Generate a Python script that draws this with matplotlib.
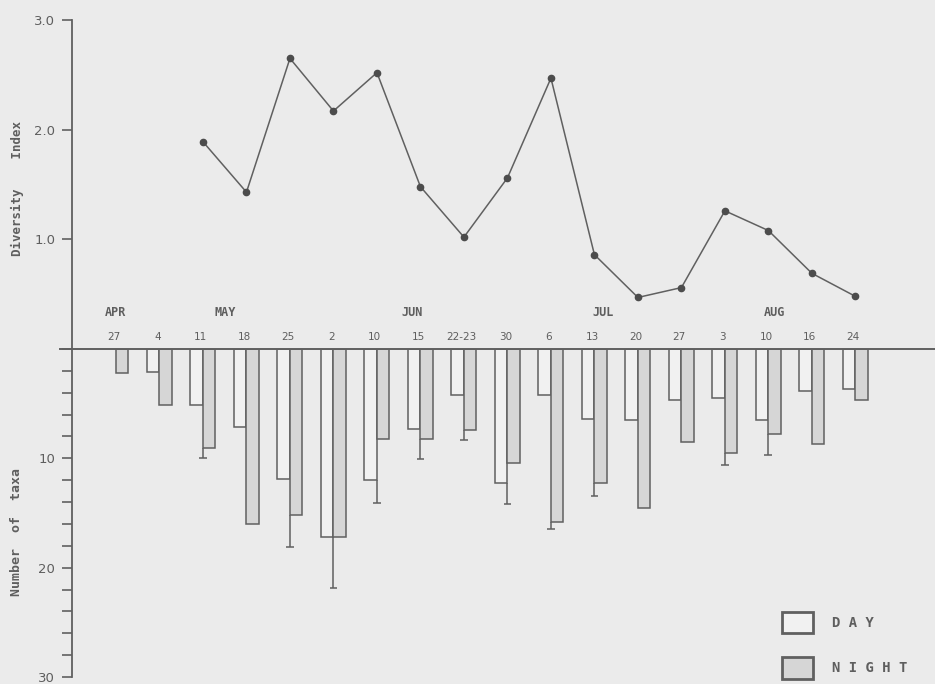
import numpy as np
import matplotlib
matplotlib.use("Agg")
import matplotlib.pyplot as plt
from matplotlib.ticker import MultipleLocator, FixedLocator
from matplotlib.patches import Patch

# ---------------- data ----------------
dates = ["27", "4", "11", "18", "25", "2", "10", "15", "22-23", "30",
         "6", "13", "20", "27", "3", "10", "16", "24"]
months = ["APR", "MAY", "JUN", "JUL", "AUG"]
month_pos = [0.0, 2.5, 6.8, 11.2, 15.15]

diversity = [np.nan, np.nan, 1.89, 1.43, 2.65, 2.17, 2.52, 1.48, 1.02, 1.56,
             2.47, 0.86, 0.47, 0.56, 1.26, 1.08, 0.69, 0.48]
day_taxa = [np.nan, 2.1, 5.1, 7.1, 11.9, 17.2, 12.0, 7.3, 4.2, 12.3,
            4.2, 6.4, 6.5, 4.7, 4.5, 6.5, 3.8, 3.7]
night_taxa = [2.2, 5.1, 9.1, 16.0, 15.2, 17.2, 8.2, 8.2, 7.4, 10.4,
              15.8, 12.3, 14.5, 8.5, 9.5, 7.8, 8.7, 4.7]
range_end = [np.nan, np.nan, 10.0, np.nan, 18.1, 21.9, 14.1, 10.1, 8.3, 14.2,
             16.5, 13.4, np.nan, np.nan, 10.6, 9.7, np.nan, np.nan]

div_ticks = [1.0, 2.0, 3.0]
div_ticklabels = ["1.0", "2.0", "3.0"]
taxa_ticks = [10, 20, 30]
taxa_ticklabels = ["10", "20", "30"]
legend_labels = ["D A Y", "N I G H T"]

# ---------------- style ----------------
BG = "#ebebeb"
INK = "#606060"
TXT = "#5e5e5e"
DAY_FILL = "#f1f1f1"
NIGHT_FILL = "#d6d6d6"

W, H = 935, 684
fig = plt.figure(figsize=(W / 100, H / 100), dpi=100, facecolor=BG)

left = 72 / W
base = 1 - 349 / H
top_y = 1 - 20 / H
bot_y = 1 - 677 / H
ax_top = fig.add_axes([left, base, 1 - left, top_y - base], facecolor="none")
ax_bot = fig.add_axes([left, bot_y, 1 - left, base - bot_y], facecolor="none",
                      sharex=ax_top)

x = np.arange(len(dates))
ax_top.set_xlim(-1.011, 18.83)

# ---------------- top panel: diversity index ----------------
ax_top.plot(x, diversity, "-o", color=INK, lw=1.1, ms=4.5,
            mfc="#4c4c4c", mec="#4c4c4c")
ax_top.set_ylim(0, 3.0)
ax_top.yaxis.set_major_locator(FixedLocator(div_ticks))
ax_top.set_yticklabels(div_ticklabels)
for s in ["top", "right", "bottom"]:
    ax_top.spines[s].set_visible(False)
ax_top.spines["left"].set_color(INK)
ax_top.spines["left"].set_linewidth(1.3)
ax_top.tick_params(axis="x", which="both", bottom=False, labelbottom=False)
ax_top.tick_params(axis="y", direction="out", length=7, width=1.2,
                   color=INK, labelcolor=TXT, labelsize=9.5, pad=5)

for xi, d in zip(x, dates):
    ax_top.text(xi - 0.05, 0.11, d, ha="center", va="center",
                fontsize=7.5, color=TXT)
for p, m in zip(month_pos, months):
    ax_top.text(p, 0.33, m, ha="center", va="center", fontsize=8.5,
                color=TXT, family="DejaVu Sans Mono", fontweight="bold")

# ---------------- bottom panel: number of taxa ----------------
bw = 0.287
day_arr = np.array(day_taxa, dtype=float)
night_arr = np.array(night_taxa, dtype=float)
end_arr = np.array(range_end, dtype=float)

ax_bot.bar(x - bw / 2, day_arr, width=bw, color=DAY_FILL, edgecolor=INK,
           linewidth=1.1, label=legend_labels[0])
ax_bot.bar(x + bw / 2, night_arr, width=bw, color=NIGHT_FILL, edgecolor=INK,
           linewidth=1.1, label=legend_labels[1])

mask = ~np.isnan(end_arr)
start = np.fmax(day_arr, night_arr)
ax_bot.vlines(x[mask], start[mask], end_arr[mask], color=INK, lw=1.1)
ax_bot.hlines(end_arr[mask], x[mask] - 0.09, x[mask] + 0.09, color=INK, lw=1.1)

ax_bot.set_ylim(30, 0)
ax_bot.yaxis.set_major_locator(FixedLocator(taxa_ticks))
ax_bot.set_yticklabels(taxa_ticklabels)
ax_bot.yaxis.set_minor_locator(MultipleLocator(2))
for s in ["top", "right", "bottom"]:
    ax_bot.spines[s].set_visible(False)
ax_bot.spines["left"].set_color(INK)
ax_bot.spines["left"].set_linewidth(1.3)
ax_bot.tick_params(axis="x", which="both", bottom=False, labelbottom=False)
ax_bot.tick_params(axis="y", which="both", direction="out", length=7, width=1.2,
                   color=INK, labelcolor=TXT, labelsize=9.5, pad=5)
ax_bot.axhline(0, xmin=-0.014, xmax=1.0, color=INK, lw=1.4, clip_on=False)

# axis titles
fig.text(17 / W, 1 - 188 / H, "Diversity    Index", rotation=90, ha="center",
         va="center", fontsize=9, fontweight="bold", color=TXT,
         family="DejaVu Sans Mono")
fig.text(17 / W, 1 - 532 / H, "Number  of  taxa", rotation=90, ha="center",
         va="center", fontsize=9.5, fontweight="bold", color=TXT,
         family="DejaVu Sans Mono")

# legend
handles = [Patch(facecolor=DAY_FILL, edgecolor=INK, linewidth=2.0),
           Patch(facecolor=NIGHT_FILL, edgecolor=INK, linewidth=2.0)]
fig.legend(handles, legend_labels, loc="upper left",
           bbox_to_anchor=(782 / W, 1 - 612 / H), bbox_transform=fig.transFigure,
           frameon=False, prop={"family": "DejaVu Sans Mono", "size": 10,
                                "weight": "bold"},
           handlelength=2.23, handleheight=2.0,
           handletextpad=1.37, labelspacing=1.7, borderpad=0, borderaxespad=0,
           labelcolor=TXT)

fig.savefig("out.png", dpi=100, facecolor=BG)
